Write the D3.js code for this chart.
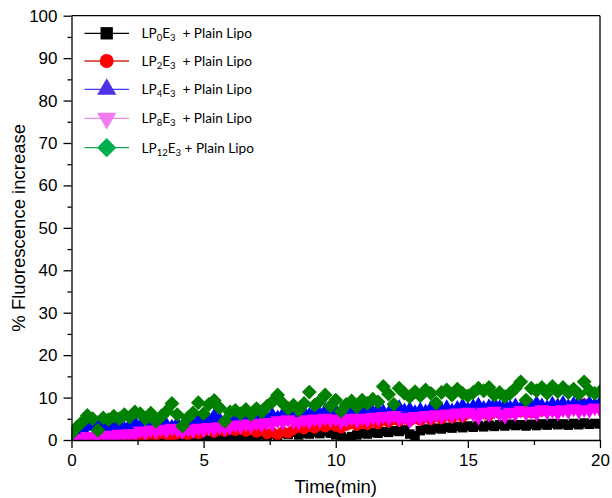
<!DOCTYPE html>
<html>
<head>
<meta charset="utf-8">
<script src="https://cdn.jsdelivr.net/npm/d3@7"></script>
<style>
  html, body { margin: 0; padding: 0; background: #fff; }
  svg { display: block; }
  .legend text { white-space: pre; }
</style>
</head>
<body>
<div id="chart"></div>
<script>
// Sampling times (min)
const timeMin = [0,0.2,0.4,0.6,0.8,1,1.2,1.4,1.6,1.8,2,2.2,2.4,2.6,2.8,3,3.2,3.4,3.6,3.8,
  4,4.2,4.4,4.6,4.8,5,5.2,5.4,5.6,5.8,6,6.2,6.4,6.6,6.8,7,7.2,7.4,7.6,7.8,
  8,8.2,8.4,8.6,8.8,9,9.2,9.4,9.6,9.8,10,10.2,10.4,10.6,10.8,11,11.2,11.4,11.6,11.8,
  12,12.2,12.4,12.6,12.8,13,13.2,13.4,13.6,13.8,14,14.2,14.4,14.6,14.8,15,15.2,15.4,15.6,15.8,
  16,16.2,16.4,16.6,16.8,17,17.2,17.4,17.6,17.8,18,18.2,18.4,18.6,18.8,19,19.2,19.4,19.6,19.8,20];

// % fluorescence increase per formulation
const lp0e3 = [0.0,-0.2,0.1,-0.1,0.0,0.2,-0.2,0.0,0.1,-0.1,0.0,0.2,-0.1,0.1,0.0,-0.2,0.1,0.0,0.2,-0.1,
  0.0,0.1,-0.1,0.2,0.0,0.1,-0.1,0.2,0.0,0.3,0.6,0.3,0.8,0.5,1.0,0.7,1.2,0.9,1.4,1.1,
  1.6,1.3,1.8,1.2,1.6,1.4,1.8,1.5,2.0,1.6,1.2,0.8,0.4,0.8,1.2,1.6,1.4,1.8,1.6,2.0,
  1.8,2.2,2.0,2.4,1.4,1.0,2.2,2.6,2.4,2.8,2.6,3.0,2.8,3.2,2.9,3.3,3.0,3.4,3.1,3.5,
  3.2,3.6,3.3,3.7,3.4,3.6,3.3,3.7,3.4,3.8,3.5,3.9,3.6,3.8,3.5,3.9,3.6,4.0,3.7,3.9,3.8];

const lp2e3 = [0.0,0.3,0.2,0.6,0.4,0.8,0.5,0.9,0.7,1.0,0.8,1.2,0.9,1.3,1.0,1.4,1.1,1.5,1.2,0.8,
  1.4,1.6,1.2,1.8,1.4,2.0,2.6,1.8,2.4,2.0,2.8,2.2,2.6,2.0,2.4,1.8,2.2,1.4,1.8,1.2,
  2.0,1.6,2.4,3.0,2.6,3.2,2.8,3.4,3.0,3.6,3.2,2.8,3.4,3.8,3.4,4.0,3.6,4.2,3.8,4.6,
  4.2,4.8,4.4,5.0,4.4,5.0,4.6,5.4,4.8,5.6,5.0,5.8,5.2,6.0,5.4,6.2,7.4,6.0,6.6,5.8,
  6.8,6.2,7.0,6.4,7.2,6.6,7.0,6.4,7.4,6.8,7.6,7.0,7.8,7.2,8.0,7.4,8.2,8.6,7.6,8.2,7.8];

const lp4e3 = [0.6,1.8,2.8,3.6,3.2,3.8,2.8,3.4,3.0,3.6,2.6,3.4,4.0,3.2,3.8,3.0,3.6,4.2,3.4,3.0,
  3.8,3.2,4.0,3.6,4.4,3.8,4.6,5.6,4.8,4.2,5.0,4.4,5.2,4.6,5.4,4.8,5.6,5.0,5.8,5.2,
  6.0,5.4,6.2,5.6,6.4,5.8,6.6,6.0,6.8,6.2,6.8,6.0,5.6,6.4,6.8,6.2,7.0,6.4,7.2,6.6,
  6.2,7.0,7.6,6.8,7.2,6.4,7.0,6.6,7.4,7.8,7.0,7.6,6.8,7.4,8.0,7.2,7.8,8.2,7.4,7.8,
  8.4,7.6,8.2,7.6,8.0,7.4,8.2,7.8,8.6,8.0,7.6,8.4,8.0,8.6,7.8,8.4,8.8,8.0,8.6,8.2,8.6];

const lp8e3 = [0.2,0.0,0.4,0.8,0.6,1.0,0.8,1.2,1.0,1.4,1.2,1.6,1.4,2.2,1.8,2.4,2.0,2.6,2.2,2.8,
  2.4,2.0,2.6,2.2,2.8,2.4,3.0,2.6,3.2,2.8,3.0,3.6,3.2,3.8,3.4,4.0,3.6,4.2,3.8,4.6,
  4.2,4.8,4.4,4.2,4.8,4.4,5.0,4.6,5.2,4.8,5.0,4.4,4.8,5.2,4.6,5.2,4.8,5.4,5.0,5.6,
  5.2,5.8,5.0,5.4,4.6,5.6,5.2,5.8,5.4,6.0,5.6,6.2,5.8,6.4,6.0,6.6,6.2,5.4,6.6,6.0,
  6.8,6.2,5.6,6.6,6.2,7.0,6.4,6.8,6.2,7.2,6.6,7.0,6.4,7.2,6.8,7.4,6.8,7.2,7.0,7.6,7.2];

const lp12e3 = [1.5,3.0,4.2,5.8,5.0,2.3,5.2,4.8,5.6,5.0,6.0,5.4,6.6,6.2,5.0,6.3,4.4,5.6,6.8,8.6,
  6.0,3.3,5.2,6.4,8.8,6.2,8.4,9.3,7.6,4.4,6.6,7.0,6.2,7.2,6.0,7.4,6.6,8.0,9.0,10.6,
  8.6,7.4,8.2,7.0,8.6,11.3,8.2,9.2,10.6,8.0,9.4,6.8,8.4,9.2,7.8,9.4,8.6,9.6,9.0,12.6,
  10.8,8.4,12.2,11.0,10.2,11.4,10.4,11.8,11.0,8.7,11.2,11.8,10.6,12.0,11.0,10.4,11.2,12.2,11.6,12.4,
  10.6,11.2,10.2,11.0,12.2,13.7,9.4,12.2,11.6,12.4,11.0,12.6,11.4,12.4,11.2,12.0,10.8,13.7,11.6,11.0,11.4];

const seriesNames = ["LP0E3", "LP2E3", "LP4E3", "LP8E3", "LP12E3"];
const xTicks = [0, 5, 10, 15, 20];
const yTicks = [0, 10, 20, 30, 40, 50, 60, 70, 80, 90, 100];

// Per-series styling: marker shape, data colour, legend line/marker colours, legend subscript
const series = [
  { name: seriesNames[0], values: lp0e3,  shape: "square",   color: "#000000", legLine: "#000000", legMark: "#000000", sub: "0" },
  { name: seriesNames[1], values: lp2e3,  shape: "circle",   color: "#ff0000", legLine: "#d42a2a", legMark: "#ff0000", sub: "2" },
  { name: seriesNames[2], values: lp4e3,  shape: "triangle", color: "#0000ff", legLine: "#4a3cff", legMark: "#5032e6", sub: "4" },
  { name: seriesNames[3], values: lp8e3,  shape: "triDown",  color: "#ff00ff", legLine: "#e88ae8", legMark: "#f07cf0", sub: "8" },
  { name: seriesNames[4], values: lp12e3, shape: "diamond",  color: "#008000", legLine: "#20a050", legMark: "#00b050", sub: "12" }
];

const W = 612, H = 498;
const margin = { left: 71.5, right: 12, top: 15.7, bottom: 58 };
const plotW = W - margin.left - margin.right;
const plotH = H - margin.top - margin.bottom;

const x = d3.scaleLinear().domain([0, 20]).range([0, plotW]);
const y = d3.scaleLinear().domain([0, 100]).range([plotH, 0]);

const svg = d3.select("#chart").append("svg")
  .attr("width", W).attr("height", H);

svg.append("defs").append("clipPath").attr("id", "plotClip")
  .append("rect").attr("x", 0).attr("y", 0).attr("width", plotW).attr("height", plotH);

const g = svg.append("g").attr("transform", `translate(${margin.left},${margin.top})`);

// Marker path generators (areas in px²)
const markerArea = { square: 90, circle: 90, triangle: 95, triDown: 95, diamond: 110 };
function markerPath(shape, scale) {
  const k = scale || 1;
  const a = markerArea[shape] * k * k;
  switch (shape) {
    case "square":   return d3.symbol(d3.symbolSquare, a)();
    case "circle":   return d3.symbol(d3.symbolCircle, a)();
    case "triangle": return d3.symbol(d3.symbolTriangle, a)();
    case "triDown":  return d3.symbol(d3.symbolTriangle, a)();
    case "diamond":  return d3.symbol(d3.symbolSquare, a)();
  }
}
function markerRotate(shape) {
  if (shape === "triDown") return 180;
  if (shape === "diamond") return 45;
  return 0;
}

// Data markers
const dataLayer = g.append("g").attr("clip-path", "url(#plotClip)");
series.forEach(s => {
  const path = markerPath(s.shape);
  const rot = markerRotate(s.shape);
  dataLayer.append("g")
    .selectAll("path")
    .data(s.values.map((v, i) => ({ t: timeMin[i], v })))
    .join("path")
    .attr("d", path)
    .attr("transform", d => `translate(${x(d.t)},${y(d.v)}) rotate(${rot})`)
    .attr("fill", s.color);
});

// Axes
const axisFont = "'Liberation Sans', Arial, sans-serif";

const xAxis = g.append("g").attr("transform", `translate(0,${plotH})`)
  .call(d3.axisBottom(x).tickValues(xTicks).tickSize(8).tickSizeOuter(0).tickPadding(6).tickFormat(d3.format("d")));
const xMinor = g.append("g").attr("transform", `translate(0,${plotH})`)
  .call(d3.axisBottom(x).tickValues([2.5, 7.5, 12.5, 17.5]).tickSize(5).tickSizeOuter(0).tickFormat(""));
xMinor.select(".domain").remove();

const yAxis = g.append("g")
  .call(d3.axisLeft(y).tickValues(yTicks).tickSize(8).tickSizeOuter(0).tickPadding(6).tickFormat(d3.format("d")));
const yMinor = g.append("g")
  .call(d3.axisLeft(y).tickValues(d3.range(5, 100, 10)).tickSize(4).tickSizeOuter(0).tickFormat(""));
yMinor.select(".domain").remove();

[xAxis, yAxis].forEach(a => {
  a.selectAll("text").attr("font-family", axisFont).attr("font-size", 17).attr("fill", "#000");
});
g.selectAll(".domain, .tick line").attr("stroke", "#000").attr("stroke-width", 1.3);

// Top and right frame lines
g.append("line").attr("x1", 0).attr("x2", plotW).attr("y1", 0).attr("y2", 0)
  .attr("stroke", "#000").attr("stroke-width", 1.3);
g.append("line").attr("x1", plotW).attr("x2", plotW).attr("y1", 0).attr("y2", plotH)
  .attr("stroke", "#000").attr("stroke-width", 1.3);

// Axis titles
svg.append("text")
  .attr("x", margin.left + plotW / 2).attr("y", 493)
  .attr("text-anchor", "middle")
  .attr("font-family", axisFont).attr("font-size", 18.5)
  .text("Time(min)");

svg.append("text")
  .attr("transform", `translate(25,${margin.top + plotH / 2}) rotate(-90)`)
  .attr("text-anchor", "middle")
  .attr("font-family", axisFont).attr("font-size", 18.5)
  .text("% Fluorescence increase");

// Legend
const legend = svg.append("g").attr("class", "legend");
const legY = [33.3, 61, 89.3, 118.3, 147.7];
const legFont = "Lato, 'Open Sans', sans-serif";
series.forEach((s, i) => {
  const row = legend.append("g").attr("transform", `translate(0,${legY[i]})`);
  row.append("line").attr("x1", 84.5).attr("x2", 129).attr("y1", 0).attr("y2", 0)
    .attr("stroke", s.legLine).attr("stroke-width", 1.3);
  row.append("path")
    .attr("d", markerPath(s.shape, 1.3))
    .attr("transform", `translate(106.7,0) rotate(${markerRotate(s.shape)})`)
    .attr("fill", s.legMark);
  const t = row.append("text")
    .attr("x", 141.5).attr("y", 4.8)
    .attr("font-family", legFont).attr("font-size", 13.6).attr("fill", "#000");
  t.append("tspan").text("LP");
  t.append("tspan").attr("font-size", 9.5).attr("dy", 3).text(s.sub);
  t.append("tspan").attr("dy", -3).text("E");
  t.append("tspan").attr("font-size", 9.5).attr("dy", 3).text("3");
  t.append("tspan").attr("dy", -3).text(s.sub.length === 1 ? "  + Plain Lipo" : " + Plain Lipo");
});
</script>
</body>
</html>
